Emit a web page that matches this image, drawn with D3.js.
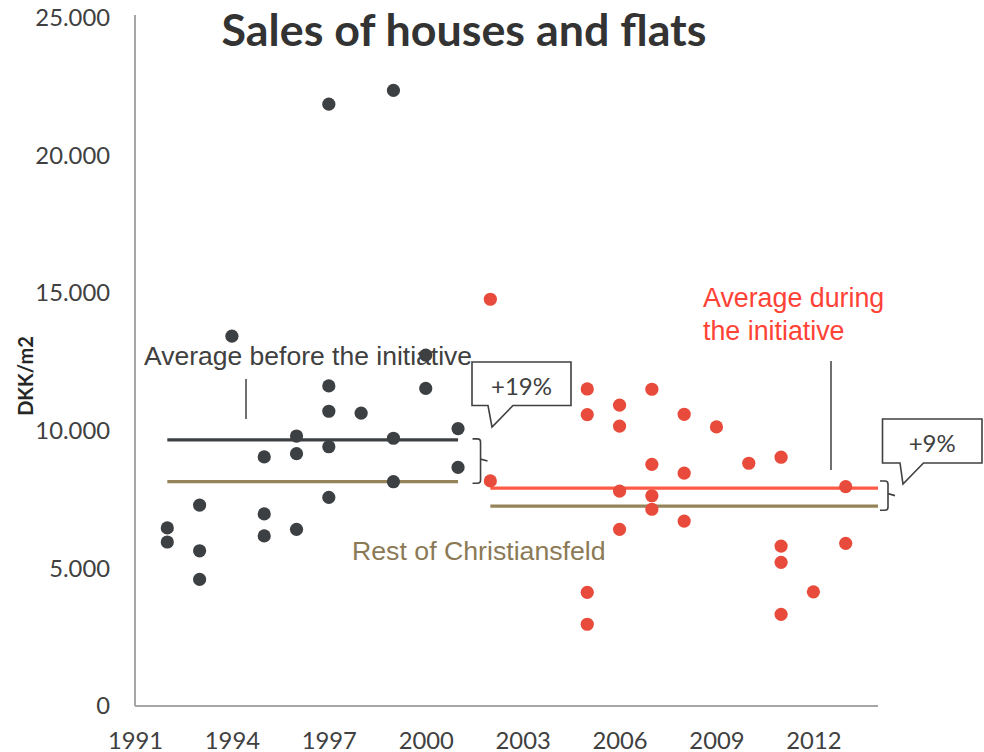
<!DOCTYPE html>
<html>
<head>
<meta charset="utf-8">
<script src="https://cdn.jsdelivr.net/npm/d3@7"></script>
<style>
  html, body { margin: 0; padding: 0; background: #ffffff; }
  svg { display: block; }
</style>
</head>
<body>
<svg id="chart" width="984" height="752"></svg>
<script>
// Sales of houses and flats in Christiansfeld, price per m2 (DKK)

// Individual sales before the initiative
const beforeYears  = [1992, 1992, 1993, 1993, 1993, 1994, 1995, 1995, 1995, 1996, 1996, 1996,
                      1997, 1997, 1997, 1997, 1997, 1998, 1999, 1999, 1999, 2000, 2000, 2001, 2001];
const beforeValues = [6470, 5960, 7300, 5640, 4600, 13440, 9050, 6980, 6180, 9810, 9170, 6420,
                      21870, 11630, 10710, 9420, 7580, 10640, 22370, 9730, 8150, 12750, 11540, 10080, 8670];

// Individual sales during the initiative
const duringYears  = [2002, 2002, 2005, 2005, 2005, 2005, 2006, 2006, 2006, 2006, 2007, 2007, 2007, 2007,
                      2008, 2008, 2008, 2009, 2010, 2011, 2011, 2011, 2011, 2012, 2013, 2013];
const duringValues = [14780, 8180, 11520, 10590, 4130, 2970, 10930, 10170, 7810, 6420, 11510, 8780, 7640, 7150,
                      10600, 8460, 6720, 10140, 8820, 9040, 5810, 5220, 3330, 4150, 7970, 5910];

// Period averages: the town itself vs. the rest of Christiansfeld
const periodNames   = ["before", "during"];
const periodStart   = [1992, 2002];
const periodEnd     = [2001, 2014];
const periodAverage = [9670, 7920];
const restAverage   = [8150, 7260];
const changeLabels  = ["+19%", "+9%"];

// Axis ticks
const xTickValues = [1991, 1994, 1997, 2000, 2003, 2006, 2009, 2012];
const xTickLabels = ["1991", "1994", "1997", "2000", "2003", "2006", "2009", "2012"];
const yTickValues = [0, 5000, 10000, 15000, 20000, 25000];
const yTickLabels = ["0", "5.000", "10.000", "15.000", "20.000", "25.000"];

// ---- styling ----
const C = {
  axis: "#a6a6a6",
  text: "#404040",
  dark: "#3c4043",
  red: "#e84a3b",
  redLine: "#ff5a46",
  redText: "#ff4236",
  tan: "#958459",
  tanText: "#8b7a55",
  ink: "#404040"
};
const tickFont = "Lato, 'Open Sans', sans-serif";
const noteFont = "'Liberation Sans', Arial, sans-serif";

const svg = d3.select("#chart");

// scale a text's font size so it spans the given width
function fitWidth(sel, width) {
  const node = sel.node();
  const fs = parseFloat(sel.style("font-size"));
  const len = node.getComputedTextLength();
  if (len > 0) sel.style("font-size", (fs * width / len).toFixed(2) + "px");
  return sel;
}

const x = d3.scaleLinear().domain([1991, 2014]).range([135, 878]);
const y = d3.scaleLinear().domain([0, 25000]).range([706, 18]);

// ---- axes ----
const yAxis = d3.axisLeft(y)
  .tickValues(yTickValues)
  .tickFormat((d, i) => yTickLabels[i])
  .tickSize(0)
  .tickPadding(25);
const xAxis = d3.axisBottom(x)
  .tickValues(xTickValues)
  .tickFormat((d, i) => xTickLabels[i])
  .tickSize(0)
  .tickPadding(26);

const gy = svg.append("g").attr("transform", `translate(${x(1991)},0)`).call(yAxis);
const gx = svg.append("g").attr("transform", `translate(0,${y(0)})`).call(xAxis);
[gy, gx].forEach(g => {
  g.select(".domain").remove();
  g.selectAll("text")
    .attr("fill", C.text)
    .style("font-family", tickFont)
    .style("font-size", "23.8px");
});

svg.append("line")
  .attr("x1", x(1991)).attr("x2", x(1991))
  .attr("y1", y(0)).attr("y2", y(25000) - 3)
  .attr("stroke", C.axis).attr("stroke-width", 2);
svg.append("line")
  .attr("x1", x(1991)).attr("x2", x(2014))
  .attr("y1", y(0)).attr("y2", y(0))
  .attr("stroke", C.axis).attr("stroke-width", 2);

// ---- titles ----
const title = svg.append("text")
  .attr("x", 464).attr("y", 46)
  .attr("text-anchor", "middle")
  .attr("fill", "#333333")
  .style("font-family", tickFont)
  .style("font-weight", "700")
  .style("font-size", "44px")
  .text("Sales of houses and flats");
fitWidth(title, 485);

svg.append("text")
  .attr("transform", `translate(33,376) rotate(-90)`)
  .attr("text-anchor", "middle")
  .attr("fill", "#262626")
  .style("font-family", tickFont)
  .style("font-weight", "700")
  .style("font-size", "20px")
  .text("DKK/m2");

// ---- average lines ----
const periods = periodNames.map((name, i) => ({
  name, start: periodStart[i], end: periodEnd[i],
  avg: periodAverage[i], rest: restAverage[i], label: changeLabels[i]
}));

svg.append("g").selectAll("line.rest")
  .data(periods).join("line")
  .attr("x1", d => x(d.start)).attr("x2", d => x(d.end))
  .attr("y1", d => y(d.rest)).attr("y2", d => y(d.rest))
  .attr("stroke", C.tan).attr("stroke-width", 3.3);

svg.append("g").selectAll("line.avg")
  .data(periods).join("line")
  .attr("x1", d => x(d.start)).attr("x2", d => x(d.end))
  .attr("y1", d => y(d.avg)).attr("y2", d => y(d.avg))
  .attr("stroke", (d, i) => i === 0 ? C.dark : C.redLine)
  .attr("stroke-width", 3.3);

// ---- sales points ----
const beforePts = beforeYears.map((yr, i) => ({ yr, v: beforeValues[i] }));
const duringPts = duringYears.map((yr, i) => ({ yr, v: duringValues[i] }));

svg.append("g").selectAll("circle")
  .data(beforePts).join("circle")
  .attr("cx", d => x(d.yr)).attr("cy", d => y(d.v))
  .attr("r", 6.6).attr("fill", C.dark);

svg.append("g").selectAll("circle")
  .data(duringPts).join("circle")
  .attr("cx", d => x(d.yr)).attr("cy", d => y(d.v))
  .attr("r", 6.6).attr("fill", C.red);

// ---- annotations ----
function brace(x0, top, bottom, w, tip) {
  const x1 = x0 + w, x2 = x1 + tip, mid = (top + bottom) / 2, r = 3;
  return `M${x0},${top} H${x1 - r} Q${x1},${top} ${x1},${top + r} V${mid - 2} L${x2},${mid} ` +
         `M${x1},${mid + 2} V${bottom - r} Q${x1},${bottom} ${x1 - r},${bottom} H${x0}` +
         `M${x1},${mid - 2} V${mid + 2}`;
}
function callout(bx, by, bw, bh, t0, t1, tipX, tipY) {
  return `M${bx},${by} H${bx + bw} V${by + bh} H${t1} L${tipX},${tipY} L${t0},${by + bh} H${bx} Z`;
}

// braces spanning the gap between each average and the rest of town
const braceSpec = [
  { x0: x(2001) + 14.5, top: y(periodAverage[0]) - 1, bottom: y(restAverage[0]) + 1.5 },
  { x0: x(2014) + 2,    top: y(periodAverage[1]) - 7, bottom: y(restAverage[1]) + 4 }
];
svg.append("g").selectAll("path")
  .data(braceSpec).join("path")
  .attr("d", d => brace(d.x0, d.top, d.bottom, 8, 7))
  .attr("fill", "none").attr("stroke", C.ink).attr("stroke-width", 1.6);

// speech-bubble boxes with the percentage difference
const bubbleSpec = [
  { bx: 472, by: 362, bw: 99, bh: 43.5, t0: 488, t1: 513, tipX: 492, tipY: 427, label: changeLabels[0] },
  { bx: 882.5, by: 419, bw: 99.5, bh: 44, t0: 900, t1: 923.5, tipX: 903, tipY: 484, label: changeLabels[1] }
];
const bubbles = svg.append("g").selectAll("g")
  .data(bubbleSpec).join("g");
bubbles.append("path")
  .attr("d", d => callout(d.bx, d.by, d.bw, d.bh, d.t0, d.t1, d.tipX, d.tipY))
  .attr("fill", "#ffffff").attr("stroke", C.ink).attr("stroke-width", 1.6);
bubbles.append("text")
  .attr("x", d => d.bx + d.bw / 2)
  .attr("y", d => d.by + 33)
  .attr("text-anchor", "middle")
  .attr("fill", C.text)
  .style("font-family", tickFont)
  .style("font-size", "24px")
  .text(d => d.label);

// leader lines
svg.append("line")
  .attr("x1", 246).attr("x2", 246).attr("y1", 379).attr("y2", 419)
  .attr("stroke", C.ink).attr("stroke-width", 1.5);
svg.append("line")
  .attr("x1", 831).attr("x2", 831).attr("y1", 361).attr("y2", 470)
  .attr("stroke", C.ink).attr("stroke-width", 1.5);

// text notes
svg.append("text")
  .attr("x", 144).attr("y", 365)
  .attr("fill", C.text)
  .style("font-family", noteFont)
  .style("font-size", "26.5px")
  .text("Average before the initiative");

const during = svg.append("text")
  .attr("x", 703).attr("y", 307)
  .attr("fill", C.redText)
  .style("font-family", noteFont)
  .style("font-size", "26.8px");
during.append("tspan").attr("x", 703).text("Average during");
during.append("tspan").attr("x", 703).attr("dy", 32.6).text("the initiative");

svg.append("text")
  .attr("x", 352).attr("y", 560)
  .attr("fill", C.tanText)
  .style("font-family", noteFont)
  .style("font-size", "26.7px")
  .text("Rest of Christiansfeld");
</script>
</body>
</html>
